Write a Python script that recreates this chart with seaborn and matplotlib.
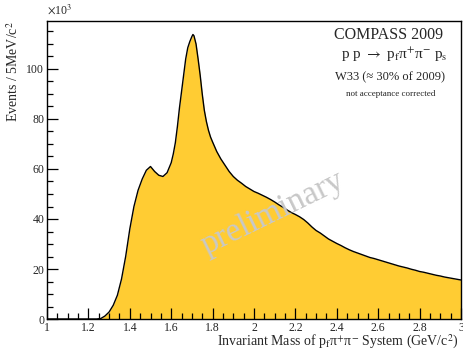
import numpy as np
import pandas as pd
import matplotlib
matplotlib.use("Agg")
import matplotlib.pyplot as plt
import seaborn as sns
from matplotlib.ticker import MultipleLocator, FuncFormatter

# ---- data, in units of 10^3 events per 5 MeV/c^2 ----
mass = [1.00, 1.02, 1.04, 1.06, 1.08, 1.10, 1.12, 1.14, 1.16, 1.18,
        1.20, 1.22, 1.24, 1.26, 1.28, 1.30, 1.32, 1.34, 1.36, 1.38,
        1.40, 1.42, 1.44, 1.46, 1.48, 1.50, 1.52, 1.54, 1.56, 1.58,
        1.60, 1.61, 1.62, 1.63, 1.64, 1.65, 1.66, 1.67, 1.68, 1.69,
        1.70, 1.705, 1.71, 1.72, 1.73, 1.74, 1.75, 1.76, 1.77, 1.78,
        1.79, 1.80, 1.82, 1.84, 1.86, 1.88, 1.90, 1.92, 1.94, 1.96, 1.98,
        2.00, 2.02, 2.04, 2.06, 2.08, 2.10, 2.12, 2.14, 2.16, 2.18,
        2.20, 2.22, 2.24, 2.26, 2.28, 2.30, 2.32, 2.34, 2.36, 2.38,
        2.40, 2.42, 2.44, 2.46, 2.48, 2.50, 2.52, 2.54, 2.56, 2.58,
        2.60, 2.62, 2.64, 2.66, 2.68, 2.70, 2.72, 2.74, 2.76, 2.78,
        2.80, 2.82, 2.84, 2.86, 2.88, 2.90, 2.92, 2.94, 2.96, 2.98, 3.00]
events = [0, 0, 0, 0, 0, 0, 0, 0, 0, 0,
          0, 0, 0, 0.2, 1.2, 2.8, 5.5, 9.5, 16.0, 25.0,
          36.0, 45.0, 51.5, 56.0, 59.5, 61.0, 59.0, 57.5, 57.0, 58.5,
          62.5, 66.0, 70.5, 77.0, 84.5, 91.0, 97.5, 104.0, 108.5, 111.0,
          113.0, 113.8, 113.3, 110.0, 104.0, 97.5, 90.0, 83.5, 79.0, 75.5,
          72.8, 70.8, 67.0, 64.0, 61.5, 59.0, 57.0, 55.5, 54.3, 53.0, 52.0,
          51.0, 50.3, 49.5, 48.7, 47.8, 46.8, 45.7, 44.7, 43.6, 42.6,
          41.8, 40.9, 39.8, 38.4, 36.8, 35.4, 34.4, 33.2, 32.0, 31.1,
          30.2, 29.4, 28.5, 27.7, 27.0, 26.4, 25.8, 25.2, 24.6, 24.2,
          23.7, 23.2, 22.7, 22.2, 21.7, 21.2, 20.8, 20.4, 19.9, 19.5,
          19.0, 18.7, 18.3, 17.9, 17.5, 17.2, 16.8, 16.5, 16.2, 15.9, 15.6]

x_ticks = [1.0, 1.2, 1.4, 1.6, 1.8, 2.0, 2.2, 2.4, 2.6, 2.8, 3.0]
y_ticks = [0, 20, 40, 60, 80, 100]
x_range = (1.0, 3.0)
y_range = (0, 119.2)

df = pd.DataFrame({"mass": mass, "events": events})

sns.set_theme(style="ticks")
plt.rcParams["font.family"] = ["Liberation Serif", "DejaVu Serif"]
plt.rcParams["mathtext.fontset"] = "stix"

rect = [47 / 464, 1 - 319 / 351, 414 / 464, 298 / 351]
fig = plt.figure(figsize=(4.64, 3.51), dpi=100)

# data axes (underneath)
ax = fig.add_axes(rect, zorder=1)
fill_col = "#FFCC33"
ax.fill_between(df["mass"], 0, df["events"], color=fill_col, lw=0)
sns.lineplot(data=df, x="mass", y="events", ax=ax, color="black", lw=1.0,
             estimator=None)
ax.set_xlim(*x_range)
ax.set_ylim(*y_range)
ax.set_xlabel("")
ax.set_ylabel("")
ax.tick_params(which="both", length=0, labelbottom=False, labelleft=False)
for s in ax.spines.values():
    s.set_visible(False)
ax.text(0.545, 0.355, "preliminary", transform=ax.transAxes, fontsize=24,
        color="#c8c8c8", rotation=26, ha="center", va="center", zorder=4)

# frame / tick axes (on top, transparent)
axt = fig.add_axes(rect, zorder=2)
axt.patch.set_visible(False)
axt.set_xlim(*x_range)
axt.set_ylim(*y_range)
axt.set_xticks(x_ticks)
axt.set_yticks(y_ticks)
axt.xaxis.set_minor_locator(MultipleLocator(0.05))
axt.yaxis.set_minor_locator(MultipleLocator(5))
axt.xaxis.set_major_formatter(FuncFormatter(lambda v, p: f"{v:g}"))
axt.tick_params(which="both", direction="in", top=False, right=False,
                labelsize=8.5, width=0.9, color="black", pad=2)
axt.tick_params(which="major", length=8)
axt.tick_params(which="minor", length=4.5)
for s in axt.spines.values():
    s.set_visible(True)
    s.set_color("black")
    s.set_linewidth(1.0)

axt.set_xlabel(r"Invariant Mass of p$_{\rm f}$π$^{+}$π$^{-}$ System (GeV/c$^{2}$)",
               fontsize=10, loc="right")
axt.xaxis.set_label_coords(0.993, -0.047)
axt.set_ylabel(r"Events / 5MeV/c$^{2}$", fontsize=10, loc="top")
axt.yaxis.set_label_coords(-0.062, 1.0)

axt.text(0.0, 1.015, r"$\times$10$^{3}$", transform=axt.transAxes,
         fontsize=8.5, ha="left", va="bottom")
axt.text(0.824, 0.953, "COMPASS 2009", transform=axt.transAxes,
         fontsize=11.5, ha="center", va="center")
axt.text(0.838, 0.886, r"p p $\rightarrow$ p$_{\rm f}$π$^{+}$π$^{-}$ p$_{\rm s}$",
         transform=axt.transAxes, fontsize=11, ha="center", va="center")
axt.text(0.829, 0.812, "W33 (≈ 30% of 2009)", transform=axt.transAxes,
         fontsize=9, ha="center", va="center")
axt.text(0.831, 0.755, "not acceptance corrected", transform=axt.transAxes,
         fontsize=6.5, ha="center", va="center")

fig.savefig("out.png", dpi=100)
